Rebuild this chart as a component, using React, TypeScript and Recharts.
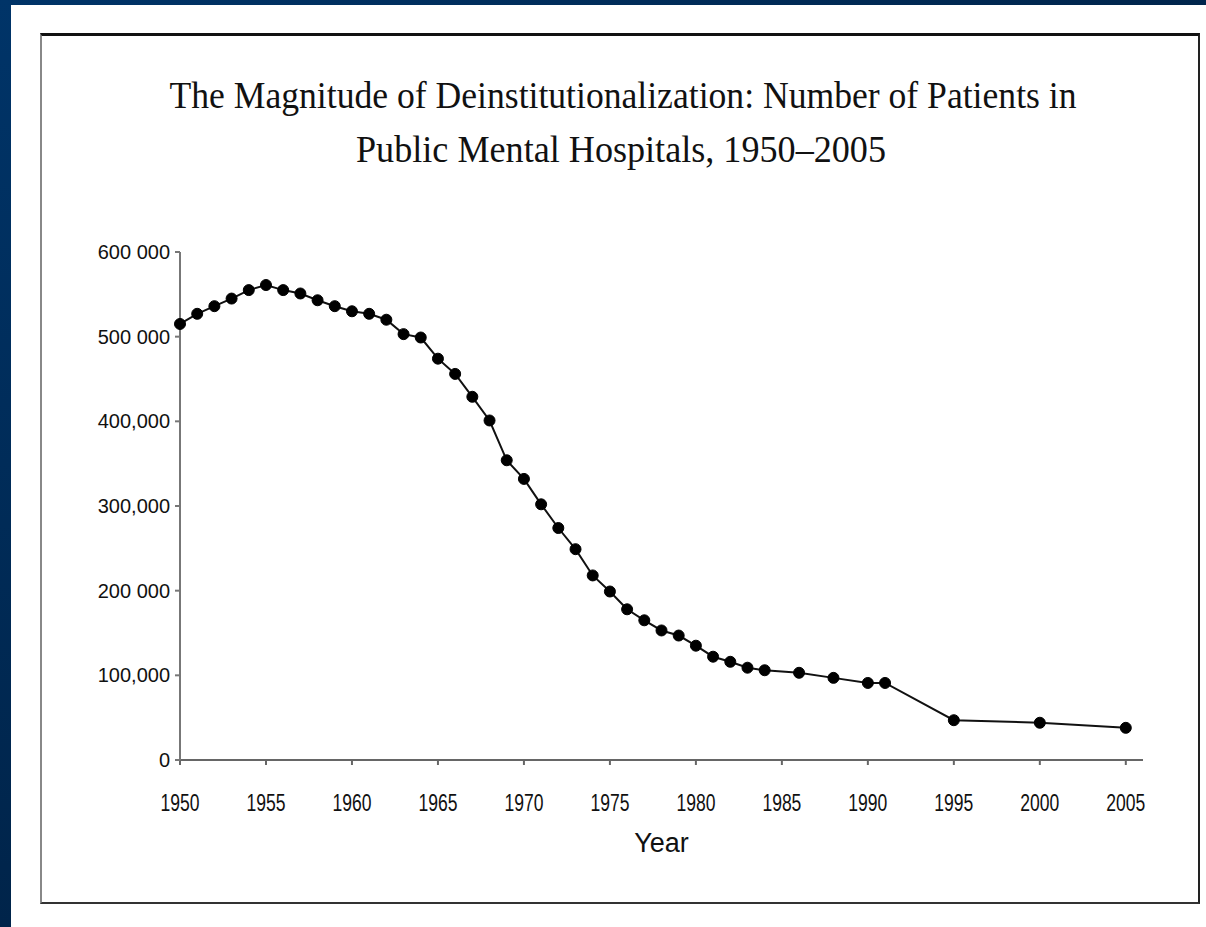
import { LineChart, Line, XAxis, YAxis } from "recharts";

// Patients in public mental hospitals
const years = [
  1950, 1951, 1952, 1953, 1954, 1955, 1956, 1957, 1958, 1959,
  1960, 1961, 1962, 1963, 1964, 1965, 1966, 1967, 1968, 1969,
  1970, 1971, 1972, 1973, 1974, 1975, 1976, 1977, 1978, 1979,
  1980, 1981, 1982, 1983, 1984, 1986, 1988, 1990, 1991, 1995,
  2000, 2005,
];
const patients = [
  515000, 527000, 536000, 545000, 555000, 561000, 555000, 551000, 543000, 536000,
  530000, 527000, 520000, 503000, 499000, 474000, 456000, 429000, 401000, 354000,
  332000, 302000, 274000, 249000, 218000, 199000, 178000, 165000, 153000, 147000,
  135000, 122000, 116000, 109000, 106000, 103000, 97000, 91000, 91000, 47000,
  44000, 38000,
];
const xTicks = [1950, 1955, 1960, 1965, 1970, 1975, 1980, 1985, 1990, 1995, 2000, 2005];
const yTicks = [0, 100000, 200000, 300000, 400000, 500000, 600000];
const yTickLabels = ["0", "100,000", "200 000", "300,000", "400,000", "500 000", "600 000"];
const titleLines = [
  "The Magnitude of Deinstitutionalization: Number of Patients in",
  "Public Mental Hospitals, 1950–2005",
];

const data = years.map((year, i) => ({ year, patients: patients[i] }));

const sans = "'Liberation Sans', Arial, sans-serif";
const serif = "'Liberation Serif', 'Times New Roman', serif";

// the scanned year labels are narrow and tall
function YearTick({ x, y, payload }: { x?: number; y?: number; payload?: { value: number } }) {
  return (
    <text
      x={x}
      y={(y ?? 0) + 44}
      textAnchor="middle"
      fontFamily={sans}
      fontSize={24}
      fill="#111"
      textLength={39}
      lengthAdjust="spacingAndGlyphs"
    >
      {payload?.value}
    </text>
  );
}

export default function App() {
  return (
    <div
      style={{
        position: "absolute",
        left: 0,
        top: 0,
        width: 1206,
        height: 927,
        background: "#fff",
        overflow: "hidden",
      }}
    >
      {/* blue slide frame */}
      <div
        style={{
          position: "absolute",
          left: 0,
          top: 0,
          width: 1206,
          height: 5,
          background: "linear-gradient(to right, #003468, #00254c)",
        }}
      />
      <div
        style={{
          position: "absolute",
          left: 0,
          top: 0,
          width: 11,
          height: 927,
          background: "linear-gradient(to bottom, #003468, #00244a)",
        }}
      />
      {/* scanned figure border */}
      <div
        style={{
          position: "absolute",
          left: 40,
          top: 33,
          width: 1156,
          height: 866,
          borderTop: "3px solid #111",
          borderRight: "2px solid #222",
          borderBottom: "2px solid #333",
          borderLeft: "2px solid #888",
        }}
      />
      <svg
        width={1206}
        height={200}
        style={{ position: "absolute", left: 0, top: 0 }}
      >
        <text
          x={623}
          y={108}
          textAnchor="middle"
          fontFamily={serif}
          fontSize={37}
          fill="#111"
          textLength={907}
          lengthAdjust="spacingAndGlyphs"
        >
          {titleLines[0]}
        </text>
        <text
          x={621}
          y={162}
          textAnchor="middle"
          fontFamily={serif}
          fontSize={37}
          fill="#111"
          textLength={530}
          lengthAdjust="spacingAndGlyphs"
        >
          {titleLines[1]}
        </text>
      </svg>
      <div style={{ position: "absolute", left: 0, top: 0 }}>
        <LineChart
          width={1206}
          height={927}
          data={data}
          margin={{ top: 252, right: 63, bottom: 67, left: 0 }}
        >
          <XAxis
            dataKey="year"
            type="number"
            domain={[1950, 2006]}
            ticks={xTicks}
            stroke="#666"
            strokeWidth={2}
            tickSize={5}
            tick={<YearTick />}
            height={100}
            label={{
              value: "Year",
              position: "insideBottom",
              offset: 8,
              style: { fontFamily: sans, fontSize: 27, fill: "#111" },
            }}
          />
          <YAxis
            type="number"
            domain={[0, 600000]}
            ticks={yTicks}
            width={180}
            stroke="#777"
            strokeWidth={2}
            tickSize={5}
            tickMargin={5}
            tickFormatter={(v: number) => yTickLabels[yTicks.indexOf(v)]}
            tick={{ fontFamily: sans, fontSize: 20, fill: "#111" }}
          />
          <Line
            dataKey="patients"
            stroke="#111"
            strokeWidth={2}
            dot={{ r: 5.5, fill: "#000", stroke: "#000", strokeWidth: 1 }}
            isAnimationActive={false}
          />
        </LineChart>
      </div>
    </div>
  );
}
